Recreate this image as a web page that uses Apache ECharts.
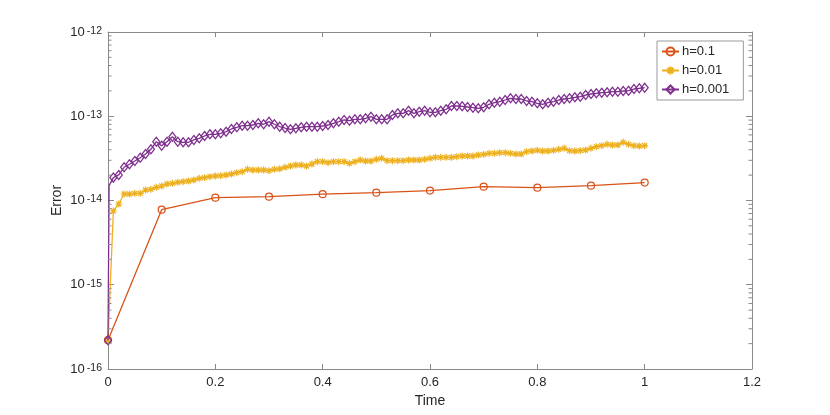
<!DOCTYPE html>
<html><head><meta charset="utf-8">
<script src="https://cdn.jsdelivr.net/npm/echarts@6/dist/echarts.min.js"></script>
<style>html,body{margin:0;padding:0;background:#fff}#c{width:830px;height:415px}</style>
</head><body><div id="c"></div>
<script>
// ---- data ----
const seriesNames = ['h=0.1', 'h=0.01', 'h=0.001'];
const xTicks = [0, 0.2, 0.4, 0.6, 0.8, 1, 1.2];
const yTicks = [1e-16, 1e-15, 1e-14, 1e-13, 1e-12];

const t1 = [0, 0.1, 0.2, 0.3, 0.4, 0.5, 0.6, 0.7, 0.8, 0.9, 1.0];
const err1 = [2.2e-16, 7.78e-15, 1.08e-14, 1.11e-14, 1.19e-14, 1.24e-14, 1.31e-14, 1.46e-14, 1.42e-14, 1.50e-14, 1.63e-14];

const err01 = [2.2e-16,
  7.51e-15, 9.09e-15, 1.195e-14, 1.195e-14, 1.218e-14, 1.218e-14, 1.332e-14, 1.358e-14, 1.435e-14, 1.486e-14,
  1.569e-14, 1.60e-14, 1.644e-14, 1.672e-14, 1.704e-14, 1.751e-14, 1.834e-14, 1.865e-14, 1.917e-14, 1.954e-14,
  1.97e-14, 2.007e-14, 2.063e-14, 2.138e-14, 2.197e-14, 2.346e-14, 2.301e-14, 2.301e-14, 2.301e-14, 2.258e-14,
  2.346e-14, 2.378e-14, 2.478e-14, 2.568e-14, 2.639e-14, 2.639e-14, 2.568e-14, 2.712e-14, 2.887e-14, 2.887e-14,
  2.81e-14, 2.887e-14, 2.887e-14, 2.887e-14, 2.764e-14, 2.887e-14, 3.025e-14, 2.943e-14, 2.943e-14, 3.083e-14,
  3.169e-14, 2.968e-14, 2.968e-14, 2.968e-14, 2.968e-14, 3.025e-14, 3.025e-14, 3.025e-14, 3.083e-14, 3.169e-14,
  3.257e-14, 3.257e-14, 3.257e-14, 3.257e-14, 3.311e-14, 3.375e-14, 3.375e-14, 3.375e-14, 3.467e-14, 3.535e-14,
  3.633e-14, 3.633e-14, 3.693e-14, 3.693e-14, 3.633e-14, 3.565e-14, 3.565e-14, 3.795e-14, 3.868e-14, 3.943e-14,
  3.868e-14, 3.868e-14, 3.943e-14, 4.052e-14, 4.164e-14, 3.9e-14, 3.868e-14, 3.9e-14, 3.976e-14, 4.164e-14,
  4.35e-14, 4.47e-14, 4.645e-14, 4.558e-14, 4.558e-14, 4.907e-14, 4.645e-14, 4.47e-14, 4.435e-14, 4.47e-14];

// first step of h=0.001 (plotted without marker)
const start001 = [[0, 2.2e-16], [0.002, 1.5e-14]];
const err001 = [
  1.87e-14, 2.01e-14, 2.48e-14, 2.69e-14, 2.94e-14, 3.22e-14, 3.56e-14, 4.05e-14, 4.99e-14, 4.47e-14,
  4.99e-14, 5.72e-14, 4.99e-14, 4.91e-14, 4.91e-14, 5.23e-14, 5.47e-14, 5.83e-14, 6.11e-14, 6.11e-14,
  6.28e-14, 6.56e-14, 7.06e-14, 7.39e-14, 7.72e-14, 7.72e-14, 7.87e-14, 8.25e-14, 8.03e-14, 8.62e-14,
  8.03e-14, 7.52e-14, 7.25e-14, 7.0e-14, 7.19e-14, 7.39e-14, 7.52e-14, 7.52e-14, 7.52e-14, 7.66e-14,
  7.87e-14, 8.25e-14, 8.62e-14, 9.03e-14, 8.86e-14, 9.2e-14, 9.2e-14, 9.46e-14, 9.88e-14, 9.2e-14,
  9.2e-14, 9.2e-14, 1.035e-13, 1.084e-13, 1.084e-13, 1.164e-13, 1.084e-13, 1.132e-13, 1.164e-13, 1.114e-13,
  1.114e-13, 1.164e-13, 1.209e-13, 1.323e-13, 1.323e-13, 1.313e-13, 1.288e-13, 1.263e-13, 1.243e-13, 1.277e-13,
  1.386e-13, 1.448e-13, 1.488e-13, 1.559e-13, 1.633e-13, 1.602e-13, 1.602e-13, 1.517e-13, 1.488e-13, 1.424e-13,
  1.386e-13, 1.448e-13, 1.488e-13, 1.559e-13, 1.602e-13, 1.633e-13, 1.679e-13, 1.706e-13, 1.787e-13, 1.837e-13,
  1.873e-13, 1.903e-13, 1.924e-13, 1.956e-13, 1.956e-13, 1.994e-13, 2.011e-13, 2.106e-13, 2.147e-13, 2.182e-13];

// ---- build ----
const colors = ['#D95319', '#EDB120', '#7E2F8E'];
const axisCol = '#8a8a8a';
const textCol = '#262626';
const font = "'Liberation Sans', Arial, Helvetica, sans-serif";

const data1 = t1.map((t, i) => [t, err1[i]]);
const data01 = err01.map((v, i) => [i / 100, v]);
const data001 = [
  {value: start001[0]},
  {value: start001[1], symbol: 'none'}
].concat(err001.map((v, i) => ({value: [(i + 1) / 100, v]})));

const minorVals = [];
for (let e = -16; e < -12; e++) for (let m = 2; m <= 9; m++) minorVals.push(m * Math.pow(10, e));

const asterisk = 'path://M0,-10L0,10M-10,0L10,0M-7.07,-7.07L7.07,7.07M-7.07,7.07L7.07,-7.07';

const chart = echarts.init(document.getElementById('c'), null, {renderer: 'canvas'});
const xCommon = {
  type: 'value', min: 0, max: 1.2, interval: 0.2,
  axisLine: {show: true, onZero: false, lineStyle: {color: axisCol, width: 1}},
  axisTick: {show: true, inside: true, length: 5, lineStyle: {color: axisCol}},
  splitLine: {show: false}
};
const yCommon = {
  type: 'log', logBase: 10, min: 1e-16, max: 1e-12, splitNumber: 4,
  axisLine: {show: true, onZero: false, lineStyle: {color: axisCol, width: 1}},
  axisTick: {show: true, inside: true, length: 6, lineStyle: {color: axisCol}},
  splitLine: {show: false}
};

chart.setOption({
  animation: false,
  backgroundColor: '#fff',
  textStyle: {fontFamily: font},
  grid: {left: 108, right: 78, top: 32, bottom: 46},
  legend: {
    data: seriesNames,
    orient: 'vertical',
    left: 657, top: 41,
    padding: [4, 14, 4, 4],
    itemWidth: 17, itemHeight: 10, itemGap: 6,
    backgroundColor: '#fff',
    borderColor: '#9a9a9a', borderWidth: 1, borderRadius: 0,
    textStyle: {fontSize: 13, color: textCol, fontFamily: font, lineHeight: 13, padding: [0, 0, 0, -2]}
  },
  xAxis: [
    Object.assign({}, xCommon, {
      position: 'bottom',
      name: 'Time', nameLocation: 'middle', nameGap: 23,
      nameTextStyle: {fontSize: 14, color: textCol, fontFamily: font},
      axisLabel: {show: true, margin: 7, fontSize: 13, color: textCol, fontFamily: font,
        formatter: v => String(Math.round(v * 10) / 10)}
    }),
    Object.assign({}, xCommon, {position: 'top', axisLabel: {show: false}})
  ],
  yAxis: [
    Object.assign({}, yCommon, {
      position: 'left',
      name: 'Error', nameLocation: 'middle', nameGap: 44, nameMoveOverlap: false,
      nameTextStyle: {fontSize: 14, color: textCol, fontFamily: font},
      axisLabel: {
        show: true, margin: 6,
        formatter: v => '{b|10}{s|' + Math.round(Math.log10(v)) + '}',
        rich: {
          b: {fontSize: 13, color: textCol, fontFamily: font, lineHeight: 13, padding: [4, 0, 0, 0], verticalAlign: 'bottom'},
          s: {fontSize: 10.5, color: textCol, fontFamily: font, lineHeight: 11, verticalAlign: 'top', padding: [0, 0, 0, 2]}
        }
      }
    }),
    Object.assign({}, yCommon, {position: 'right', axisLabel: {show: false}})
  ],
  series: [
    {
      type: 'custom', name: 'minor', silent: true, clip: false, z: 5,
      xAxisIndex: 0, yAxisIndex: 0,
      data: minorVals.map(v => [0, v]),
      encode: {x: 0, y: 1},
      renderItem: function (params, api) {
        const v = api.value(1);
        const pL = api.coord([0, v]);
        const pR = api.coord([1.2, v]);
        const st = {stroke: axisCol, lineWidth: 1};
        return {type: 'group', children: [
          {type: 'line', shape: {x1: pL[0], y1: pL[1], x2: pL[0] + 3.5, y2: pL[1]}, style: st},
          {type: 'line', shape: {x1: pR[0], y1: pR[1], x2: pR[0] - 3.5, y2: pR[1]}, style: st}
        ]};
      }
    },
    {
      type: 'line', name: seriesNames[0], data: data1,
      symbol: 'circle', symbolSize: 7, showAllSymbol: true,
      lineStyle: {color: colors[0], width: 1.3},
      itemStyle: {color: 'rgba(255,255,255,0)', borderColor: colors[0], borderWidth: 1.2},
      z: 2
    },
    {
      type: 'line', name: seriesNames[1], data: data01,
      symbol: asterisk, symbolSize: 7, showAllSymbol: true,
      lineStyle: {color: colors[1], width: 1.3},
      itemStyle: {color: colors[1], borderColor: colors[1], borderWidth: 1.2},
      z: 3
    },
    {
      type: 'line', name: seriesNames[2], data: data001,
      symbol: 'diamond', symbolSize: [7, 9], showAllSymbol: true,
      lineStyle: {color: colors[2], width: 1.3},
      itemStyle: {color: 'rgba(255,255,255,0)', borderColor: colors[2], borderWidth: 1.3},
      z: 4
    }
  ]
});
</script></body></html>
